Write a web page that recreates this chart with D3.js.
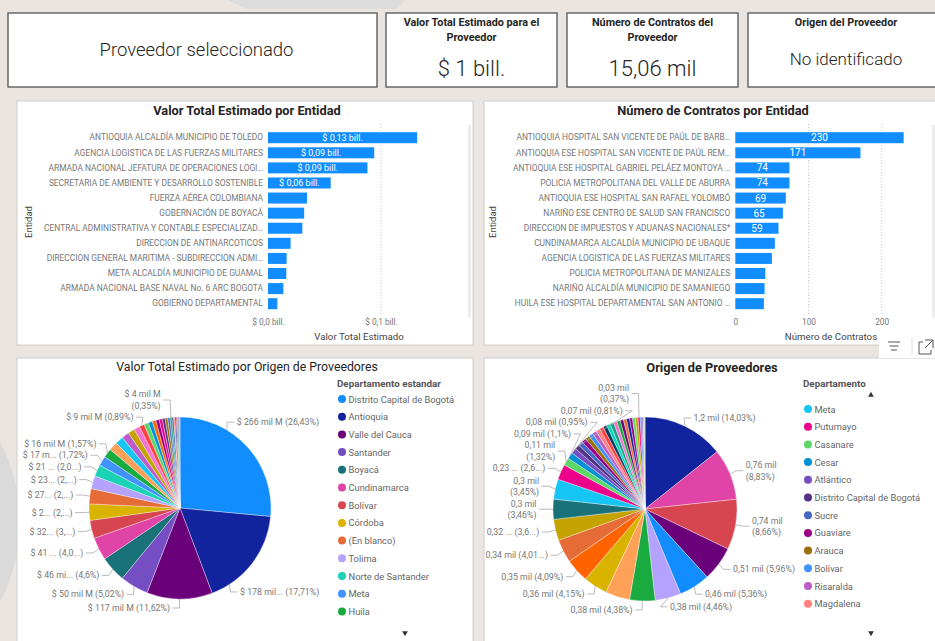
<!DOCTYPE html>
<html>
<head>
<meta charset="utf-8">
<script src="https://cdn.jsdelivr.net/npm/d3@7"></script>
<style>
  body { margin: 0; background: #ebe5e1; }
  svg { display: block; font-family: Roboto, "Liberation Sans", sans-serif; }
</style>
</head>
<body>
<div class="container"></div>
<script>
// ---- data ----
const entidadesValor = [
  'ANTIOQUIA ALCALDÍA MUNICIPIO DE TOLEDO',
  'AGENCIA LOGISTICA DE LAS FUERZAS MILITARES',
  'ARMADA NACIONAL JEFATURA DE OPERACIONES LOGI…',
  'SECRETARIA DE AMBIENTE Y DESARROLLO SOSTENIBLE',
  'FUERZA AÉREA COLOMBIANA',
  'GOBERNACIÓN DE BOYACÁ',
  'CENTRAL ADMINISTRATIVA Y CONTABLE ESPECIALIZAD…',
  'DIRECCION DE ANTINARCOTICOS',
  'DIRECCION GENERAL MARITIMA - SUBDIRECCION ADMI…',
  'META ALCALDÍA MUNICIPIO DE GUAMAL',
  'ARMADA NACIONAL BASE NAVAL No. 6 ARC BOGOTA',
  'GOBIERNO DEPARTAMENTAL'
];
// billones de pesos
const valorPorEntidad = [0.132, 0.094, 0.088, 0.0555, 0.0345, 0.032, 0.0304, 0.020, 0.0165, 0.0162, 0.0136, 0.0083];
const valorTicks = [0, 0.1];

const entidadesContratos = [
  'ANTIOQUIA HOSPITAL SAN VICENTE DE PAÚL DE BARB…',
  'ANTIOQUIA ESE HOSPITAL SAN VICENTE DE PAÚL REM…',
  'ANTIOQUIA ESE HOSPITAL GABRIEL PELÁEZ MONTOYA …',
  'POLICIA METROPOLITANA DEL VALLE DE ABURRA',
  'ANTIOQUIA ESE HOSPITAL SAN RAFAEL YOLOMBÓ',
  'NARIÑO ESE CENTRO DE SALUD SAN FRANCISCO',
  'DIRECCION DE IMPUESTOS Y ADUANAS NACIONALES*',
  'CUNDINAMARCA ALCALDÍA MUNICIPIO DE UBAQUE',
  'AGENCIA LOGISTICA DE LAS FUERZAS MILITARES',
  'POLICIA METROPOLITANA DE MANIZALES',
  'NARIÑO ALCALDÍA MUNICIPIO DE SAMANIEGO',
  'HUILA ESE HOSPITAL DEPARTAMENTAL SAN ANTONIO …'
];
const contratosPorEntidad = [230, 171, 74, 74, 69, 65, 59, 54, 50, 41, 40, 39];
const contratosTicks = [0, 100, 200];

// pie: valor por departamento estandar (%)
const deptosValor = ['Distrito Capital de Bogotá', 'Antioquia', 'Valle del Cauca', 'Santander', 'Boyacá',
  'Cundinamarca', 'Bolívar', 'Córdoba', '(En blanco)', 'Tolima', 'Norte de Santander', 'Meta', 'Huila',
  'Caldas', 'Nariño', 'Risaralda', 'Cesar', 'Atlántico', 'Magdalena', 'Cauca', 'Casanare', 'Sucre',
  'Quindío', 'La Guajira', 'Caquetá', 'Putumayo', 'Arauca', 'Chocó', 'Guaviare', 'San Andrés',
  'Amazonas', 'Vichada', 'Guainía', 'Vaupés', 'Exterior'];
const valorPct = [26.43, 17.71, 11.62, 5.02, 4.6, 4.05, 3.2, 2.9, 2.7, 2.3, 2.05, 1.72, 1.57,
  1.55, 1.45, 1.3, 1.2, 1.05, 0.89, 0.8, 0.72, 0.65, 0.6, 0.55, 0.5, 0.45, 0.4, 0.35, 0.3, 0.25,
  0.22, 0.2, 0.18, 0.15, 0.12];
const valorEtiquetas = ['$ 266 mil M (26,43%)', '$ 178 mil... (17,71%)', '$ 117 mil M (11,62%)',
  '$ 50 mil M (5,02%)', '$ 46 mi... (4,6%)', '$ 41 ... (4,0...)', '$ 32... (3,...)', '$ 2... (2,...)',
  '$ 27... (2,...)', '$ 23... (2,...)', '$ 21 ... (2,0...)', '$ 17 m... (1,72%)', '$ 16 mil M (1,57%)',
  null, null, null, null, null, '$ 9 mil M (0,89%)', null, null, null, null, null, null, null, null,
  '$ 4 mil M\n(0,35%)'];

// pie: numero de contratos por departamento (%)
const deptosOrigen = ['Antioquia', 'Cundinamarca', 'Nariño', 'Valle del Cauca', 'Huila', 'Tolima',
  'Santander', 'Caldas', 'Córdoba', 'Boyacá', 'Norte de Santander', 'Cauca', 'Quindío', 'Meta',
  'Putumayo', 'Casanare', 'Cesar', 'Atlántico', 'Distrito Capital de Bogotá', 'Sucre', 'Guaviare',
  'Arauca', 'Bolívar', 'Risaralda', 'Magdalena', 'La Guajira', 'Caquetá', 'Chocó', 'Amazonas',
  'Bogotá D.C.', 'Valle', 'San Andrés', 'Vichada', 'Guainía', 'Vaupés', 'N. de Santander', 'Bogotá',
  'Exterior', '(En blanco)', 'Archipiélago de San Andrés', 'Quindio', 'Narino', 'Boyaca'];
const origenPct = [14.03, 8.83, 8.66, 5.96, 5.36, 4.46, 4.38, 4.2, 4.15, 4.09, 4.01, 3.65, 3.46, 3.45,
  2.65, 1.32, 1.1, 0.95, 0.81, 0.80, 0.78, 0.76, 0.74, 0.72, 0.70, 0.68, 0.66, 0.64, 0.62, 0.60, 0.58,
  0.56, 0.54, 0.52, 0.50, 0.48, 0.46, 0.37, 0.3, 0.22, 0.15, 0.1, 0.06];
const origenEtiquetas = ['1,2 mil (14,03%)', '0,76 mil\n(8,83%)', '0,74 mil\n(8,66%)', '0,51 mil (5,96%)',
  '0,46 mil (5,36%)', '0,38 mil (4,46%)', '0,38 mil (4,38%)', null, '0,36 mil (4,15%)', '0,35 mil (4,09%)',
  '0,34 mil (4,01...)', '0,32 ... (3,6...)', '0,3 mil\n(3,46%)', '0,3 mil\n(3,45%)', '0,23 ... (2,6...)',
  '0,11 mil\n(1,32%)', '0,09 mil (1,1%)', '0,08 mil (0,95%)', '0,07 mil (0,81%)',
  null, null, null, null, null, null, null, null, null, null, null, null, null, null, null, null, null, null,
  '0,03 mil\n(0,37%)'];
const origenLeyendaInicio = 13;
const leyendaFilas = 13;

// ---- styles ----
const paletaValor = ['#118DFF', '#12239E', '#6B007B', '#744EC2', '#197278', '#E044A7', '#D64550',
  '#D9B300', '#E66C37', '#B5A1FF', '#1AD3B5', '#4092FF', '#1AAB40', '#FFA058', '#15C6F4', '#BE5DC9',
  '#C4A200', '#F472D0', '#FF4141', '#5BD667', '#0091D5', '#FF6300', '#99008A', '#EC008C', '#533285',
  '#99700A', '#4668C5', '#1F9A85', '#255A91', '#FF8080', '#12239E', '#D64550', '#1AAB40', '#6B007B', '#E66C37'];
const paletaOrigen = ['#12239E', '#E044A7', '#D64550', '#6B007B', '#118DFF', '#B5A1FF', '#1AAB40',
  '#FFA058', '#D9B300', '#FF6300', '#E66C37', '#C4A200', '#197278', '#15C6F4', '#EC008C', '#5BD667',
  '#0091D5', '#744EC2', '#533285', '#4668C5', '#99008A', '#99700A', '#4092FF', '#BE5DC9', '#FF8080',
  '#FF4141', '#0B3B60', '#00DBBC', '#1F9A85', '#F472D0', '#1AAB40', '#6B007B', '#E66C37', '#12239E',
  '#99008A', '#5BD667', '#C4A200', '#EC008C', '#4092FF', '#744EC2', '#FFA058', '#118DFF', '#D9B300'];

const WIDTH = 935;
const HEIGHT = 641;
const BAR_BLUE = '#118DFF';
const TXT = '#252423';
const GREY = '#777';

let translate = (x, y) => (`translate(${x},${y})`);

let svg = d3.select('.container').append('svg')
  .attr('width', WIDTH)
  .attr('height', HEIGHT);

// background decoration
svg.append('rect').attr('width', WIDTH).attr('height', HEIGHT).attr('fill', '#ebe5e1');
svg.append('path').attr('d', 'M228,0 L405,0 L397,9 L247,9 Z').attr('fill', '#dcdcdc');
svg.append('circle').attr('cx', -150).attr('cy', 522).attr('r', 170).attr('fill', '#dadada');

// ---- cards ----
const cards = [
  {x: 8, w: 369, dx: 4, title: [], value: 'Proveedor seleccionado', vy: 50, vs: 18.5},
  {x: 386, w: 171, dx: 0, title: ['Valor Total Estimado para el', 'Proveedor'], value: '$ 1 bill.', vy: 68, vs: 22},
  {x: 567, w: 171, dx: 0, title: ['Número de Contratos del', 'Proveedor'], value: '15,06 mil', vy: 68, vs: 22},
  {x: 748, w: 200, dx: -2, title: ['Origen del Proveedor'], value: 'No identificado', vy: 59, vs: 17}
];
cards.forEach(c => {
  let g = svg.append('g').attr('transform', translate(c.x, 13));
  g.append('rect').attr('width', c.w).attr('height', 74)
    .attr('fill', '#fff').attr('stroke', '#5f5f5f').attr('stroke-width', 1.4);
  c.title.forEach((t, i) => {
    g.append('text').attr('x', c.w / 2 + c.dx).attr('y', 9 + i * 15)
      .attr('text-anchor', 'middle').attr('dominant-baseline', 'central')
      .attr('font-size', 10.8).attr('font-weight', 'bold').attr('fill', TXT).text(t);
  });
  g.append('text').attr('x', c.w / 2 + c.dx).attr('y', c.vy - 13)
    .attr('text-anchor', 'middle').attr('dominant-baseline', 'central')
    .attr('font-size', c.vs).attr('font-weight', 300).attr('fill', TXT).text(c.value);
});

// ---- panels ----
const panels = [[17, 101, 456, 244], [484, 101, 460, 244], [17, 358, 456, 300], [484, 358, 460, 300]];
panels.forEach(p => {
  svg.append('rect').attr('x', p[0]).attr('y', p[1]).attr('width', p[2]).attr('height', p[3])
    .attr('fill', '#fff').attr('stroke', '#d2cecb').attr('stroke-width', 1);
});

let title = (x, y, t, bold) => svg.append('text').attr('x', x).attr('y', y)
  .attr('text-anchor', 'middle').attr('dominant-baseline', 'central')
  .attr('font-size', bold ? 12.8 : 12.3).attr('font-weight', bold ? 'bold' : 'normal')
  .attr('fill', TXT).text(t);

title(247, 110, 'Valor Total Estimado por Entidad', true);
title(713, 110, 'Número de Contratos por Entidad', true);
title(247, 367, 'Valor Total Estimado por Origen de Proveedores', false);
title(712, 367, 'Origen de Proveedores', true);

// ---- bar charts ----
const drawBars = function (o) {
  let x = d3.scaleLinear().domain(o.domain).range(o.range);
  let y = d3.scaleBand().domain(o.names).range([132.2, 309.2]).paddingInner(0.27);

  svg.append('g').selectAll('line')
    .data(o.ticks.filter(d => d > 0))
    .enter().append('line')
    .attr('x1', d => x(d)).attr('x2', d => x(d))
    .attr('y1', 124).attr('y2', 316)
    .attr('stroke', '#c8c8c8').attr('stroke-dasharray', '1,2');

  let rows = o.names.map((n, i) => ({name: n, value: o.values[i]}));
  svg.append('g').selectAll('rect')
    .data(rows)
    .enter().append('rect')
    .attr('x', x(0))
    .attr('y', d => y(d.name))
    .attr('width', d => x(d.value) - x(0))
    .attr('height', y.bandwidth())
    .attr('fill', BAR_BLUE);

  svg.append('g').selectAll('text')
    .data(rows.filter(d => x(d.value) - x(0) > 40))
    .enter().append('text')
    .attr('x', d => (x(d.value) + x(0)) / 2)
    .attr('y', d => y(d.name) + y.bandwidth() / 2)
    .attr('text-anchor', 'middle').attr('dominant-baseline', 'central')
    .attr('font-size', o.barFont).attr('fill', '#fff')
    .text(d => o.fmtBar(d.value));

  let yAxis = d3.axisLeft(y).tickSize(0).tickPadding(5);
  svg.append('g')
    .attr('transform', translate(x(0), 0))
    .call(yAxis)
    .call(g => g.select('.domain').remove())
    .call(g => g.selectAll('text').attr('font-size', 8.4).attr('fill', GREY)
      .attr('font-family', 'Roboto, sans-serif'));

  let xAxis = d3.axisBottom(x).tickValues(o.ticks).tickFormat(o.fmtTick).tickSize(0).tickPadding(0);
  svg.append('g')
    .attr('transform', translate(0, 319))
    .call(xAxis)
    .call(g => g.select('.domain').remove())
    .call(g => g.selectAll('text').attr('font-size', 8.3).attr('fill', GREY)
      .attr('font-family', 'Roboto, sans-serif'));

  svg.append('text').attr('x', o.titleX).attr('y', 336)
    .attr('text-anchor', 'middle').attr('dominant-baseline', 'central')
    .attr('font-size', 9.7).attr('fill', '#444').text(o.axisTitle);
  svg.append('text').attr('transform', translate(o.entidadX, 222) + ' rotate(-90)')
    .attr('text-anchor', 'middle').attr('dominant-baseline', 'central')
    .attr('font-size', 9.5).attr('fill', '#444').text('Entidad');

  // scrollbar
  svg.append('rect').attr('x', o.scrollX).attr('y', 125).attr('width', 3).attr('height', 193)
    .attr('fill', '#ececec');
};

const bill = (v, d) => '$ ' + v.toFixed(d).replace('.', ',') + ' bill.';

drawBars({
  names: entidadesValor, values: valorPorEntidad, ticks: valorTicks,
  domain: [0, 0.1], range: [268, 381], barFont: 9,
  fmtBar: v => bill(v, 2), fmtTick: v => bill(v, 1),
  axisTitle: 'Valor Total Estimado', titleX: 359, entidadX: 28, scrollX: 468
});
drawBars({
  names: entidadesContratos, values: contratosPorEntidad, ticks: contratosTicks,
  domain: [0, 100], range: [735.3, 808.5], barFont: 10,
  fmtBar: v => String(v), fmtTick: v => String(v),
  axisTitle: 'Número de Contratos', titleX: 831, entidadX: 492, scrollX: 932
});

// visual header icons
let hdr = svg.append('g').attr('transform', translate(879, 333));
hdr.append('rect').attr('width', 60).attr('height', 25).attr('fill', '#fff');
[[0, 12], [1.5, 9], [3, 6]].forEach((l, i) => {
  hdr.append('line').attr('x1', 9 + l[0]).attr('x2', 9 + l[0] + l[1])
    .attr('y1', 9 + i * 4).attr('y2', 9 + i * 4).attr('stroke', '#555').attr('stroke-width', 1);
});
hdr.append('line').attr('x1', 33).attr('x2', 33).attr('y1', 5).attr('y2', 22).attr('stroke', '#ddd');
hdr.append('path').attr('d', 'M44,9 L40,9 L40,21 L52,21 L52,17 M46,7 L54,7 L54,15 M54,7 L46,15')
  .attr('fill', 'none').attr('stroke', '#555').attr('stroke-width', 1);

// ---- pies ----
const LH = 11.5;

const drawPie = function (o) {
  let color = d3.scaleOrdinal().domain(o.names).range(o.palette);
  let rows = o.names.map((n, i) => ({name: n, share: o.shares[i], label: o.labels[i] || null}))
    .filter(d => d.share !== undefined);
  let arcs = d3.pie().sort(null).value(d => d.share)(rows);
  let arc = d3.arc().innerRadius(0).outerRadius(o.r);

  let g = svg.append('g').attr('transform', translate(o.cx, o.cy));
  g.selectAll('path')
    .data(arcs)
    .enter().append('path')
    .attr('d', arc)
    .attr('fill', d => color(d.data.name))
    .attr('stroke', '#fff').attr('stroke-width', 0.35);

  // labels: measure first, then place
  let items = arcs.filter(d => d.data.label).map(d => {
    let lines = d.data.label.split('\n');
    let t = g.append('text').attr('font-size', 8.8).attr('fill', GREY);
    lines.forEach((l, i) => t.append('tspan').attr('dy', i === 0 ? '0.35em' : LH).text(l));
    let w = d3.max(t.selectAll('tspan').nodes(), n => n.getComputedTextLength());
    let mid = (d.startAngle + d.endAngle) / 2;
    let side = mid < Math.PI ? 1 : -1;
    let a = mid;
    if (side > 0) {
      // keep label clear of the legend
      let lim = (o.maxRight - o.cx - 9.5 - w) / (o.r + 7);
      if (Math.sin(a) > lim) {
        let s = Math.asin(Math.max(-1, Math.min(1, lim)));
        a = a < Math.PI / 2 ? s : Math.PI - s;
        a = Math.max(d.startAngle + 0.03, Math.min(d.endAngle - 0.03, a));
      }
    }
    return {t, lines, a, side, y: -Math.cos(a) * (o.r + 9)};
  });
  [-1, 1].forEach(side => {
    let s = items.filter(d => d.side === side).sort((p, q) => q.y - p.y);
    for (let i = 1; i < s.length; i++) {
      let gap = (s[i].lines.length + s[i - 1].lines.length) / 2 * LH;
      if (s[i].y > s[i - 1].y - gap) s[i].y = s[i - 1].y - gap;
    }
  });

  let R = o.r + 7;
  items.forEach(d => {
    let x1 = Math.sin(d.a) * o.r, y1 = -Math.cos(d.a) * o.r;
    let x2 = Math.abs(d.y) < R ? d.side * Math.sqrt(R * R - d.y * d.y) : Math.sin(d.a) * R;
    let x3 = x2 + d.side * 7;
    g.insert('path', 'text')
      .attr('d', `M${x1},${y1} L${x2},${d.y} L${x3},${d.y}`)
      .attr('fill', 'none').attr('stroke', '#a8a8a8').attr('stroke-width', 0.8);
    d.t.attr('y', d.y - (d.lines.length - 1) / 2 * LH)
      .attr('text-anchor', d.side > 0 ? 'start' : 'end');
    d.t.selectAll('tspan').attr('x', x3 + d.side * 2.5);
  });

  // legend
  let lg = svg.append('g').attr('transform', translate(o.legX, 383));
  lg.append('text').attr('x', 0).attr('y', 0).attr('dominant-baseline', 'central')
    .attr('font-size', 9.8).attr('font-weight', 'bold').attr('fill', '#555').text(o.legTitle);
  let shown = o.names.slice(o.legStart, o.legStart + o.legRows);
  let li = lg.selectAll('g.item')
    .data(shown)
    .enter().append('g')
    .attr('transform', (d, i) => translate(5, o.legY0 + i * 17.7));
  li.append('circle').attr('r', 4).attr('fill', d => color(d));
  li.append('text').attr('x', 6.5).attr('dominant-baseline', 'central')
    .attr('font-size', 9.3).attr('fill', '#666').text(d => d);

  let tri = d3.symbol().type(d3.symbolTriangle).size(14);
  if (o.legStart > 0) {
    lg.append('path').attr('d', tri()).attr('transform', translate(o.arrowX, 12)).attr('fill', '#333');
  }
  lg.append('path').attr('d', tri()).attr('transform', translate(o.arrowX, 250) + ' rotate(180)')
    .attr('fill', '#333');
};

drawPie({
  names: deptosValor, shares: valorPct, labels: valorEtiquetas, palette: paletaValor,
  cx: 180, cy: 508, r: 91, maxRight: 322,
  legX: 337, legTitle: 'Departamento estandar', legStart: 0, legRows: leyendaFilas, legY0: 16, arrowX: 68
});
drawPie({
  names: deptosOrigen, shares: origenPct, labels: origenEtiquetas, palette: paletaOrigen,
  cx: 645, cy: 509, r: 92, maxRight: 798,
  legX: 803, legTitle: 'Departamento', legStart: origenLeyendaInicio, legRows: leyendaFilas - 1,
  legY0: 26, arrowX: 68
});
</script>
</body>
</html>
